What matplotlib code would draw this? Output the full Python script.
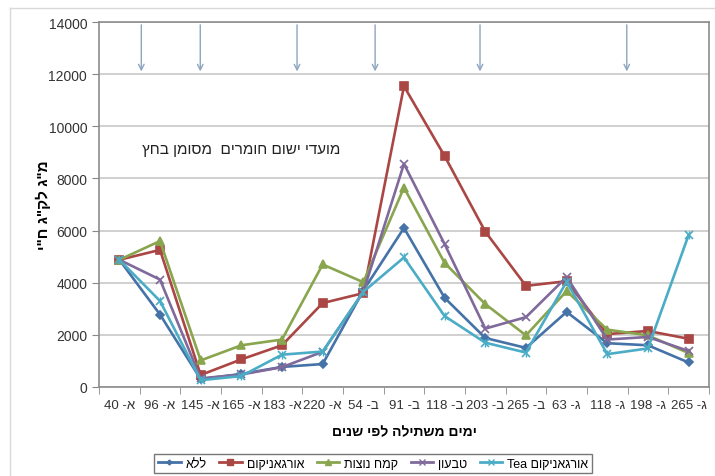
import matplotlib
matplotlib.use("Agg")
import matplotlib.pyplot as plt
from matplotlib.lines import Line2D

plt.rcParams['font.family'] = ['Liberation Sans', 'DejaVu Sans']


def heb(s):
    # matplotlib has no bidi support: give Hebrew in visual order
    return s[::-1]


# categories (x axis): day number and year letter
days = ["40", "96", "145", "165", "183", "220", "54", "91", "118", "203", "265", "63", "118", "198", "265"]
years = ["א", "א", "א", "א", "א", "א", "ב", "ב", "ב", "ב", "ב", "ג", "ג", "ג", "ג"]
tick_labels = [d + " -" + y for d, y in zip(days, years)]

lela = [4880, 2780, 300, 500, 770, 880, 3700, 6100, 3420, 1880, 1500, 2880, 1680, 1600, 940]
organikum = [4880, 5260, 460, 1060, 1600, 3220, 3600, 11540, 8860, 5960, 3880, 4060, 2030, 2150, 1850]
kemach = [4880, 5600, 1020, 1600, 1820, 4700, 4020, 7650, 4760, 3180, 1980, 3680, 2200, 1980, 1300]
tivon = [4880, 4120, 330, 480, 760, 1350, 3650, 8560, 5480, 2240, 2680, 4220, 1820, 1920, 1380]
tea = [4880, 3300, 260, 420, 1240, 1360, 3650, 4970, 2720, 1700, 1320, 4040, 1260, 1480, 5830]

series_names = ["ללא", "אורגאניקום", "קמח נוצות", "טבעון"]
tea_name = "Tea " + heb("אורגאניקום")

# application dates (category position) marked with arrows
arrow_x = [0.54, 1.99, 4.37, 6.29, 8.87, 12.48]

x = list(range(len(days)))

fig = plt.figure(figsize=(7.15, 4.77), dpi=100)
ax = fig.add_axes([0.1385, 0.1866, 0.853, 0.765])

styles = [
    (lela, "#4572A7", "D", 4),
    (organikum, "#AA4643", "s", 6),
    (kemach, "#89A54E", "^", 6),
    (tivon, "#80699B", "x", 6),
    (tea, "#4BACC6", "x", 6),
]
for (vals, col, mk, ms) in styles:
    ax.plot(x, vals, color=col, marker=mk, markersize=ms, linewidth=1.9, markeredgewidth=1.2)
# star-ish marker for Tea: add a vertical tick over the x
ax.plot(x, tea, color="#4BACC6", marker="|", markersize=6, linestyle="none", markeredgewidth=1)

ax.set_xlim(-0.5, len(days) - 0.5)
ax.set_ylim(0, 14000)
ax.set_yticks(range(0, 14001, 2000))
ax.set_xticks(x)
ax.set_xticklabels(tick_labels, fontsize=9.5, color="#333333")
ax.set_xticks([i + 0.5 for i in range(-1, len(days))], minor=True)
ax.tick_params(axis="x", which="major", length=0, pad=9)
ax.tick_params(axis="x", which="minor", length=5, color="#888888", direction="out")
ax.tick_params(axis="y", length=5, color="#888888", labelsize=10, labelcolor="#333333")
ax.grid(axis="y", color="#C8C8C8", linewidth=1.2)
ax.set_axisbelow(True)
for s in ax.spines.values():
    s.set_color("#8C8C8C")
    s.set_linewidth(1.2)

for ax_ in arrow_x:
    ax.annotate("", xy=(ax_, 12000), xytext=(ax_, 14000),
                arrowprops=dict(arrowstyle="->", color="#8EA5C0", lw=1.0))

ax.text(3.0, 9150, heb("מועדי ישום חומרים  מסומן בחץ"), fontsize=11,
        ha="center", va="center", color="#222222")

ax.set_xlabel(heb("ימים משתילה לפי שנים"), fontsize=10, fontweight="bold", labelpad=9)
ax.set_ylabel(heb('מ"ג לק"ג ח"י'), fontsize=11, fontweight="bold")
ax.yaxis.set_label_coords(-0.078, 0.5)

handles = []
labels = []
for (vals, col, mk, ms), nm in zip(styles, series_names + [None]):
    handles.append(Line2D([], [], color=col, marker=mk, markersize=ms - 1.5, linewidth=2))
    labels.append(heb(nm) if nm else tea_name)
fig.legend(handles, labels, loc="center", bbox_to_anchor=(0.522, 0.026), ncol=5,
           fontsize=9, frameon=True, fancybox=False, edgecolor="#555555",
           handlelength=1.8, columnspacing=1.0, borderpad=0.3, handletextpad=0.4)

# chart area border
fig.add_artist(Line2D([0.014, 1.0], [0.981, 0.981], transform=fig.transFigure, color="#D9D9D9", lw=1))
fig.add_artist(Line2D([0.014, 0.014], [0.0, 0.981], transform=fig.transFigure, color="#D9D9D9", lw=1))

fig.savefig("out.png", dpi=100)
